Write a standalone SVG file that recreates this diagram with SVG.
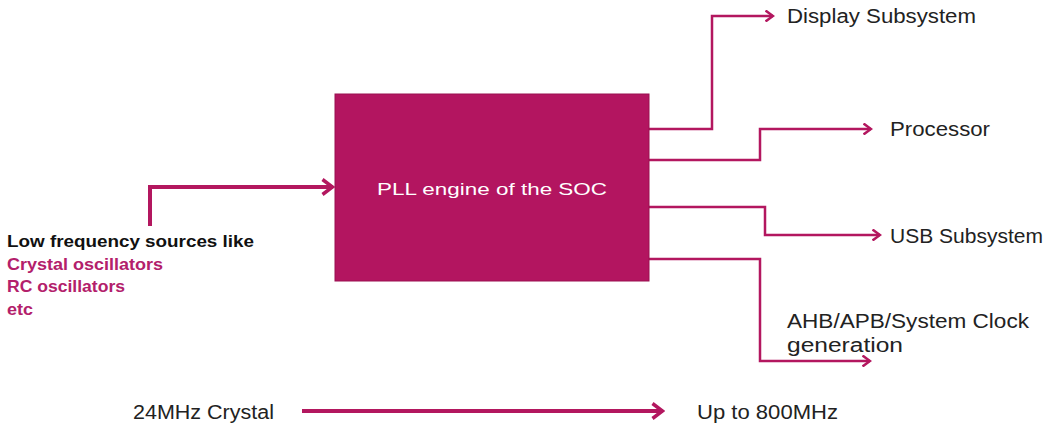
<svg xmlns="http://www.w3.org/2000/svg" width="1048" height="430" viewBox="0 0 1048 430">
<defs>
<style>
.lbl{font-family:"Liberation Sans","DejaVu Sans",sans-serif;font-size:20px;fill:#222}
.src{font-family:"Liberation Sans","DejaVu Sans",sans-serif;font-size:16.5px;font-weight:bold}
.wire{fill:none;stroke:#B3175F;stroke-width:2.5;stroke-linejoin:miter}
.thick{fill:none;stroke:#B3175F;stroke-width:4}
</style>
<marker id="ah" markerWidth="10" markerHeight="12" refX="8" refY="6" orient="auto" markerUnits="userSpaceOnUse" viewBox="0 0 10 12">
<path d="M0.5,0.5 L8,6 L0.5,11.5" fill="none" stroke="#B3175F" stroke-width="2.5"/>
</marker>
<marker id="ah2" markerWidth="14" markerHeight="18" refX="12" refY="9" orient="auto" markerUnits="userSpaceOnUse" viewBox="0 0 14 18">
<path d="M1.5,1.5 L11.5,9 L1.5,16.5" fill="none" stroke="#B3175F" stroke-width="3.5"/>
</marker>
</defs>
<rect width="1048" height="430" fill="#fff"/>
<g id="connectors">
<polyline class="thick" points="150,226 150,187 333,187" marker-end="url(#ah2)"/>
<polyline class="wire" points="649,129 712,129 712,16 773,16" marker-end="url(#ah)"/>
<polyline class="wire" points="649,160 760,160 760,129 871,129" marker-end="url(#ah)"/>
<polyline class="wire" points="649,207 765,207 765,235 880,235" marker-end="url(#ah)"/>
<polyline class="wire" points="649,259 760,259 760,361 870,361" marker-end="url(#ah)"/>
<line class="thick" x1="302" y1="411" x2="663" y2="411" stroke-width="4.5" marker-end="url(#ah2)"/>
</g>
<g id="pll">
<rect x="335" y="94" width="314" height="187" fill="#B31560" stroke="#9A1050" stroke-width="1"/>
<text x="377" y="195" textLength="230" lengthAdjust="spacingAndGlyphs" font-family="Liberation Sans, DejaVu Sans, sans-serif" font-size="17" fill="#fff">PLL engine of the SOC</text>
</g>
<g id="sources">
<text class="src" x="7" y="247" fill="#111" textLength="247" lengthAdjust="spacingAndGlyphs">Low frequency sources like</text>
<text class="src" x="7" y="270" fill="#B3206B" textLength="156" lengthAdjust="spacingAndGlyphs">Crystal oscillators</text>
<text class="src" x="7" y="292" fill="#B3206B" textLength="118" lengthAdjust="spacingAndGlyphs">RC oscillators</text>
<text class="src" x="7" y="315" fill="#B3206B" textLength="26" lengthAdjust="spacingAndGlyphs">etc</text>
</g>
<g id="display"><text class="lbl" x="787" y="23" textLength="189" lengthAdjust="spacingAndGlyphs">Display Subsystem</text></g>
<g id="processor"><text class="lbl" x="890" y="136" textLength="100" lengthAdjust="spacingAndGlyphs">Processor</text></g>
<g id="usb"><text class="lbl" x="890" y="243" textLength="153" lengthAdjust="spacingAndGlyphs">USB Subsystem</text></g>
<g id="ahb"><text class="lbl" x="787" y="328" textLength="242" lengthAdjust="spacingAndGlyphs">AHB/APB/System Clock</text><text class="lbl" x="787" y="352" textLength="116" lengthAdjust="spacingAndGlyphs">generation</text></g>
<g id="crystal"><text class="lbl" x="133" y="419" font-size="18" textLength="141" lengthAdjust="spacingAndGlyphs">24MHz Crystal</text></g>
<g id="upto"><text class="lbl" x="697" y="419" font-size="18" textLength="141" lengthAdjust="spacingAndGlyphs">Up to 800MHz</text></g>
</svg>
